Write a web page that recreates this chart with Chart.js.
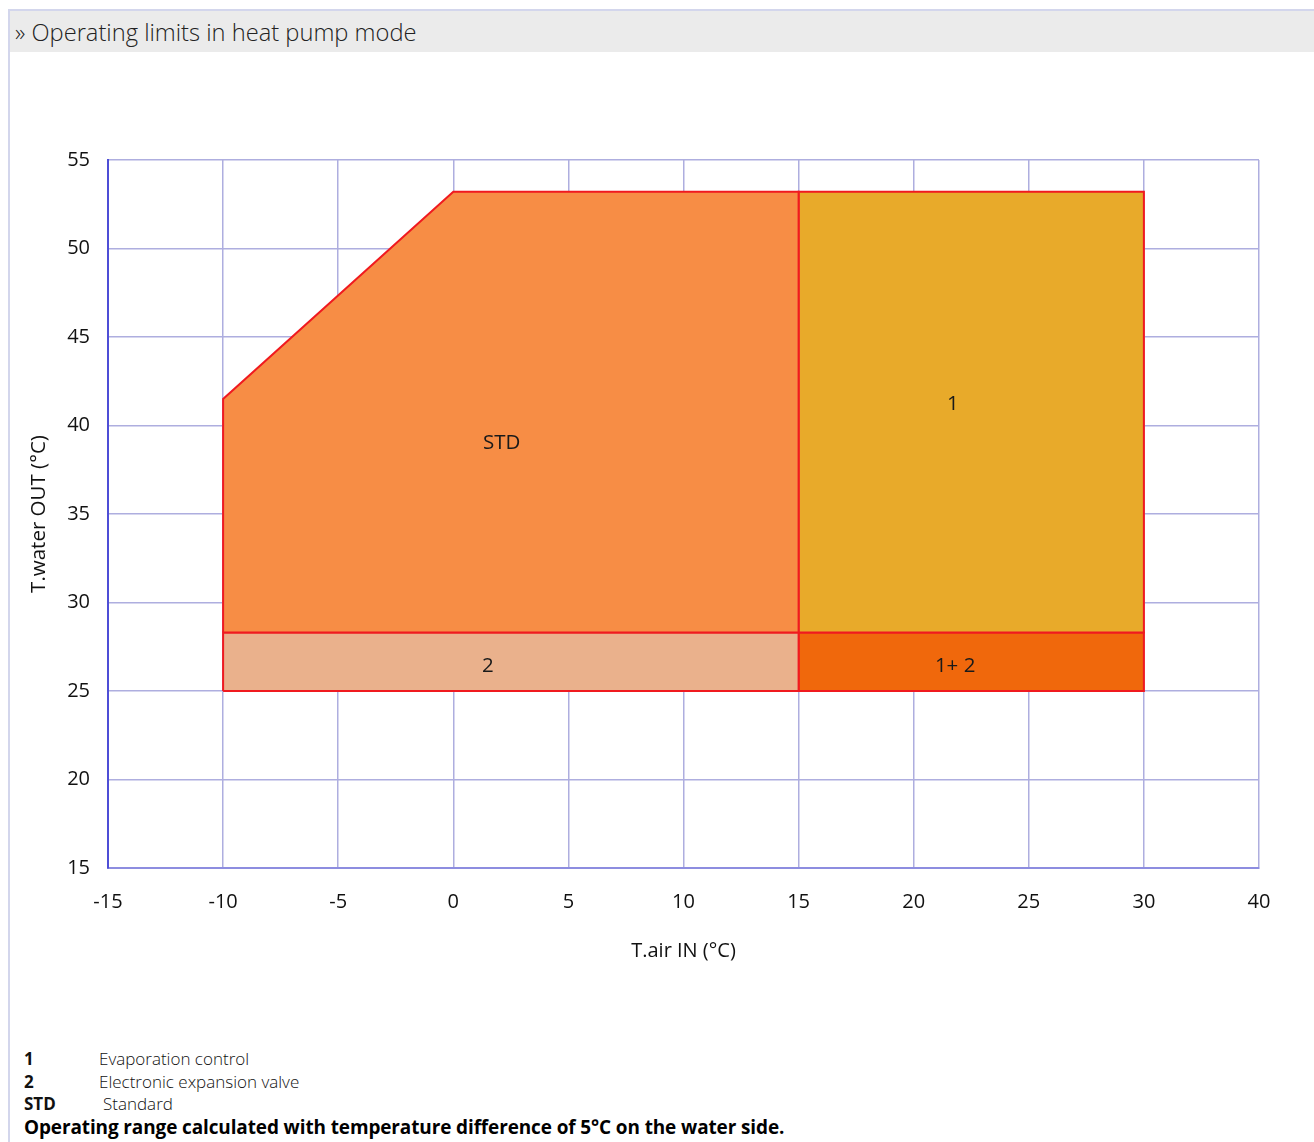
<!DOCTYPE html>
<html>
<head>
<meta charset="utf-8">
<script src="https://cdn.jsdelivr.net/npm/chart.js@4.4.1/dist/chart.umd.min.js"></script>
<style>
  html, body { margin: 0; padding: 0; background: #fff; }
  body { width: 1314px; height: 1142px; position: relative; overflow: hidden; font-family: "Open Sans", sans-serif; }
  #frame { position: absolute; left: 8px; top: 9px; width: 1306px; height: 1133px; border-left: 2px solid #d3d6ec; border-top: 2px solid #d3d6ec; }
  #head { position: absolute; left: 10px; top: 11px; width: 1304px; height: 41px; background: #ebebeb; }
  #head span { position: absolute; left: 5px; top: 5px; font-size: 23.7px; font-weight: 300; color: #222; }
  #wrap { position: absolute; left: 0; top: 130px; width: 1314px; height: 837px; }
  .leg { position: absolute; left: 24px; font-size: 17px; color: #111; line-height: 22px; }
  .leg b { display: inline-block; width: 75px; font-weight: 700; }
  .leg span { font-weight: 300; }
  #note { position: absolute; left: 24px; top: 1114px; font-size: 18.95px; font-weight: 700; color: #000; letter-spacing: -0.1px; }
</style>
</head>
<body>
<div id="frame"></div>
<div id="head"><span>» Operating limits in heat pump mode</span></div>
<div id="wrap"><canvas id="c"></canvas></div>
<div class="leg" style="top:1048px"><b>1</b><span>Evaporation control</span></div>
<div class="leg" style="top:1071px"><b>2</b><span>Electronic expansion valve</span></div>
<div class="leg" style="top:1093px"><b style="width:79px">STD</b><span>Standard</span></div>
<div id="note">Operating range calculated with temperature difference of 5°C on the water side.</div>
<script>
// x axis ticks are evenly spaced even though the values are not (30 -> 40)
var xTicks = [-15, -10, -5, 0, 5, 10, 15, 20, 25, 30, 40];
var yTicks = [15, 20, 25, 30, 35, 40, 45, 50, 55];

// operating envelopes, [T.air IN, T.water OUT]
var stdZone = [[-10, 28.3], [-10, 41.5], [0, 53.2], [15, 53.2], [15, 28.3], [-10, 28.3]];
var zone1 = [[15, 28.3], [15, 53.2], [30, 53.2], [30, 28.3], [15, 28.3]];
var zone2 = [[-10, 25], [-10, 28.3], [15, 28.3], [15, 25], [-10, 25]];
var zone12 = [[15, 25], [15, 28.3], [30, 28.3], [30, 25], [15, 25]];

var zoneLabels = ['STD', '1', '2', '1+ 2'];
var labelPos = [[2.1, 39.0], [21.7, 41.2], [1.5, 26.4], [21.8, 26.4]];

// temperature -> position on the evenly spaced axis
function toIdx(v) {
    for (var i = 0; i < xTicks.length - 1; i++) {
        if (v <= xTicks[i + 1]) {
            return i + (v - xTicks[i]) / (xTicks[i + 1] - xTicks[i]);
        }
    }
    return xTicks.length - 1;
}
function pts(arr) {
    return arr.map(function (p) { return { x: toIdx(p[0]), y: p[1] }; });
}
function zone(arr, color) {
    return {
        data: pts(arr),
        showLine: true,
        fill: 'shape',
        backgroundColor: color,
        borderColor: '#f01a1f',
        borderWidth: 2,
        pointRadius: 0,
        tension: 0
    };
}

var zoneText = {
    id: 'zoneText',
    afterDatasetsDraw: function (chart) {
        var ctx = chart.ctx, xs = chart.scales.x, ys = chart.scales.y;
        ctx.save();
        ctx.font = '20.5px "Open Sans"';
        ctx.fillStyle = '#1a1a1a';
        ctx.textAlign = 'center';
        ctx.textBaseline = 'middle';
        zoneLabels.forEach(function (t, i) {
            ctx.fillText(t, xs.getPixelForValue(toIdx(labelPos[i][0])), ys.getPixelForValue(labelPos[i][1]));
        });
        ctx.restore();
    }
};

var tickFont = { family: 'Open Sans', size: 20 };
new Chart(document.getElementById('c'), {
    type: 'scatter',
    data: {
        datasets: [
            zone(stdZone, '#f78d45'),
            zone(zone1, '#e8aa2a'),
            zone(zone2, '#eab18c'),
            zone(zone12, '#f0680c')
        ]
    },
    options: {
        responsive: true,
        maintainAspectRatio: false,
        animation: false,
        layout: { padding: { top: 30, right: 55, left: 0, bottom: 0 } },
        plugins: { legend: { display: false }, tooltip: { enabled: false } },
        scales: {
            x: {
                type: 'linear',
                min: 0,
                max: xTicks.length - 1,
                afterBuildTicks: function (s) {
                    s.ticks = xTicks.map(function (v, i) { return { value: i }; });
                },
                afterFit: function (s) { s.height = 99; },
                ticks: {
                    font: tickFont,
                    color: '#111',
                    padding: 22,
                    callback: function (v) { return xTicks[v]; }
                },
                grid: { color: '#aeaedf', lineWidth: 1.5, drawTicks: false },
                border: { color: '#8d8de0', width: 2 },
                title: { display: true, text: 'T.air IN (°C)', font: tickFont, color: '#111', padding: { top: 4 } }
            },
            y: {
                min: 15,
                max: 55,
                afterBuildTicks: function (s) {
                    s.ticks = yTicks.map(function (v) { return { value: v }; });
                },
                afterFit: function (s) { s.width = 108; },
                ticks: { font: tickFont, color: '#111', padding: 18 },
                grid: { color: '#aeaedf', lineWidth: 1.5, drawTicks: false },
                border: { color: '#4e4ed6', width: 2 },
                title: { display: true, text: 'T.water OUT (°C)', font: { family: 'Open Sans', size: 20.5, weight: 500 }, color: '#111', padding: { top: 27, bottom: 0 } }
            }
        }
    },
    plugins: [zoneText]
});
</script>
</body>
</html>
